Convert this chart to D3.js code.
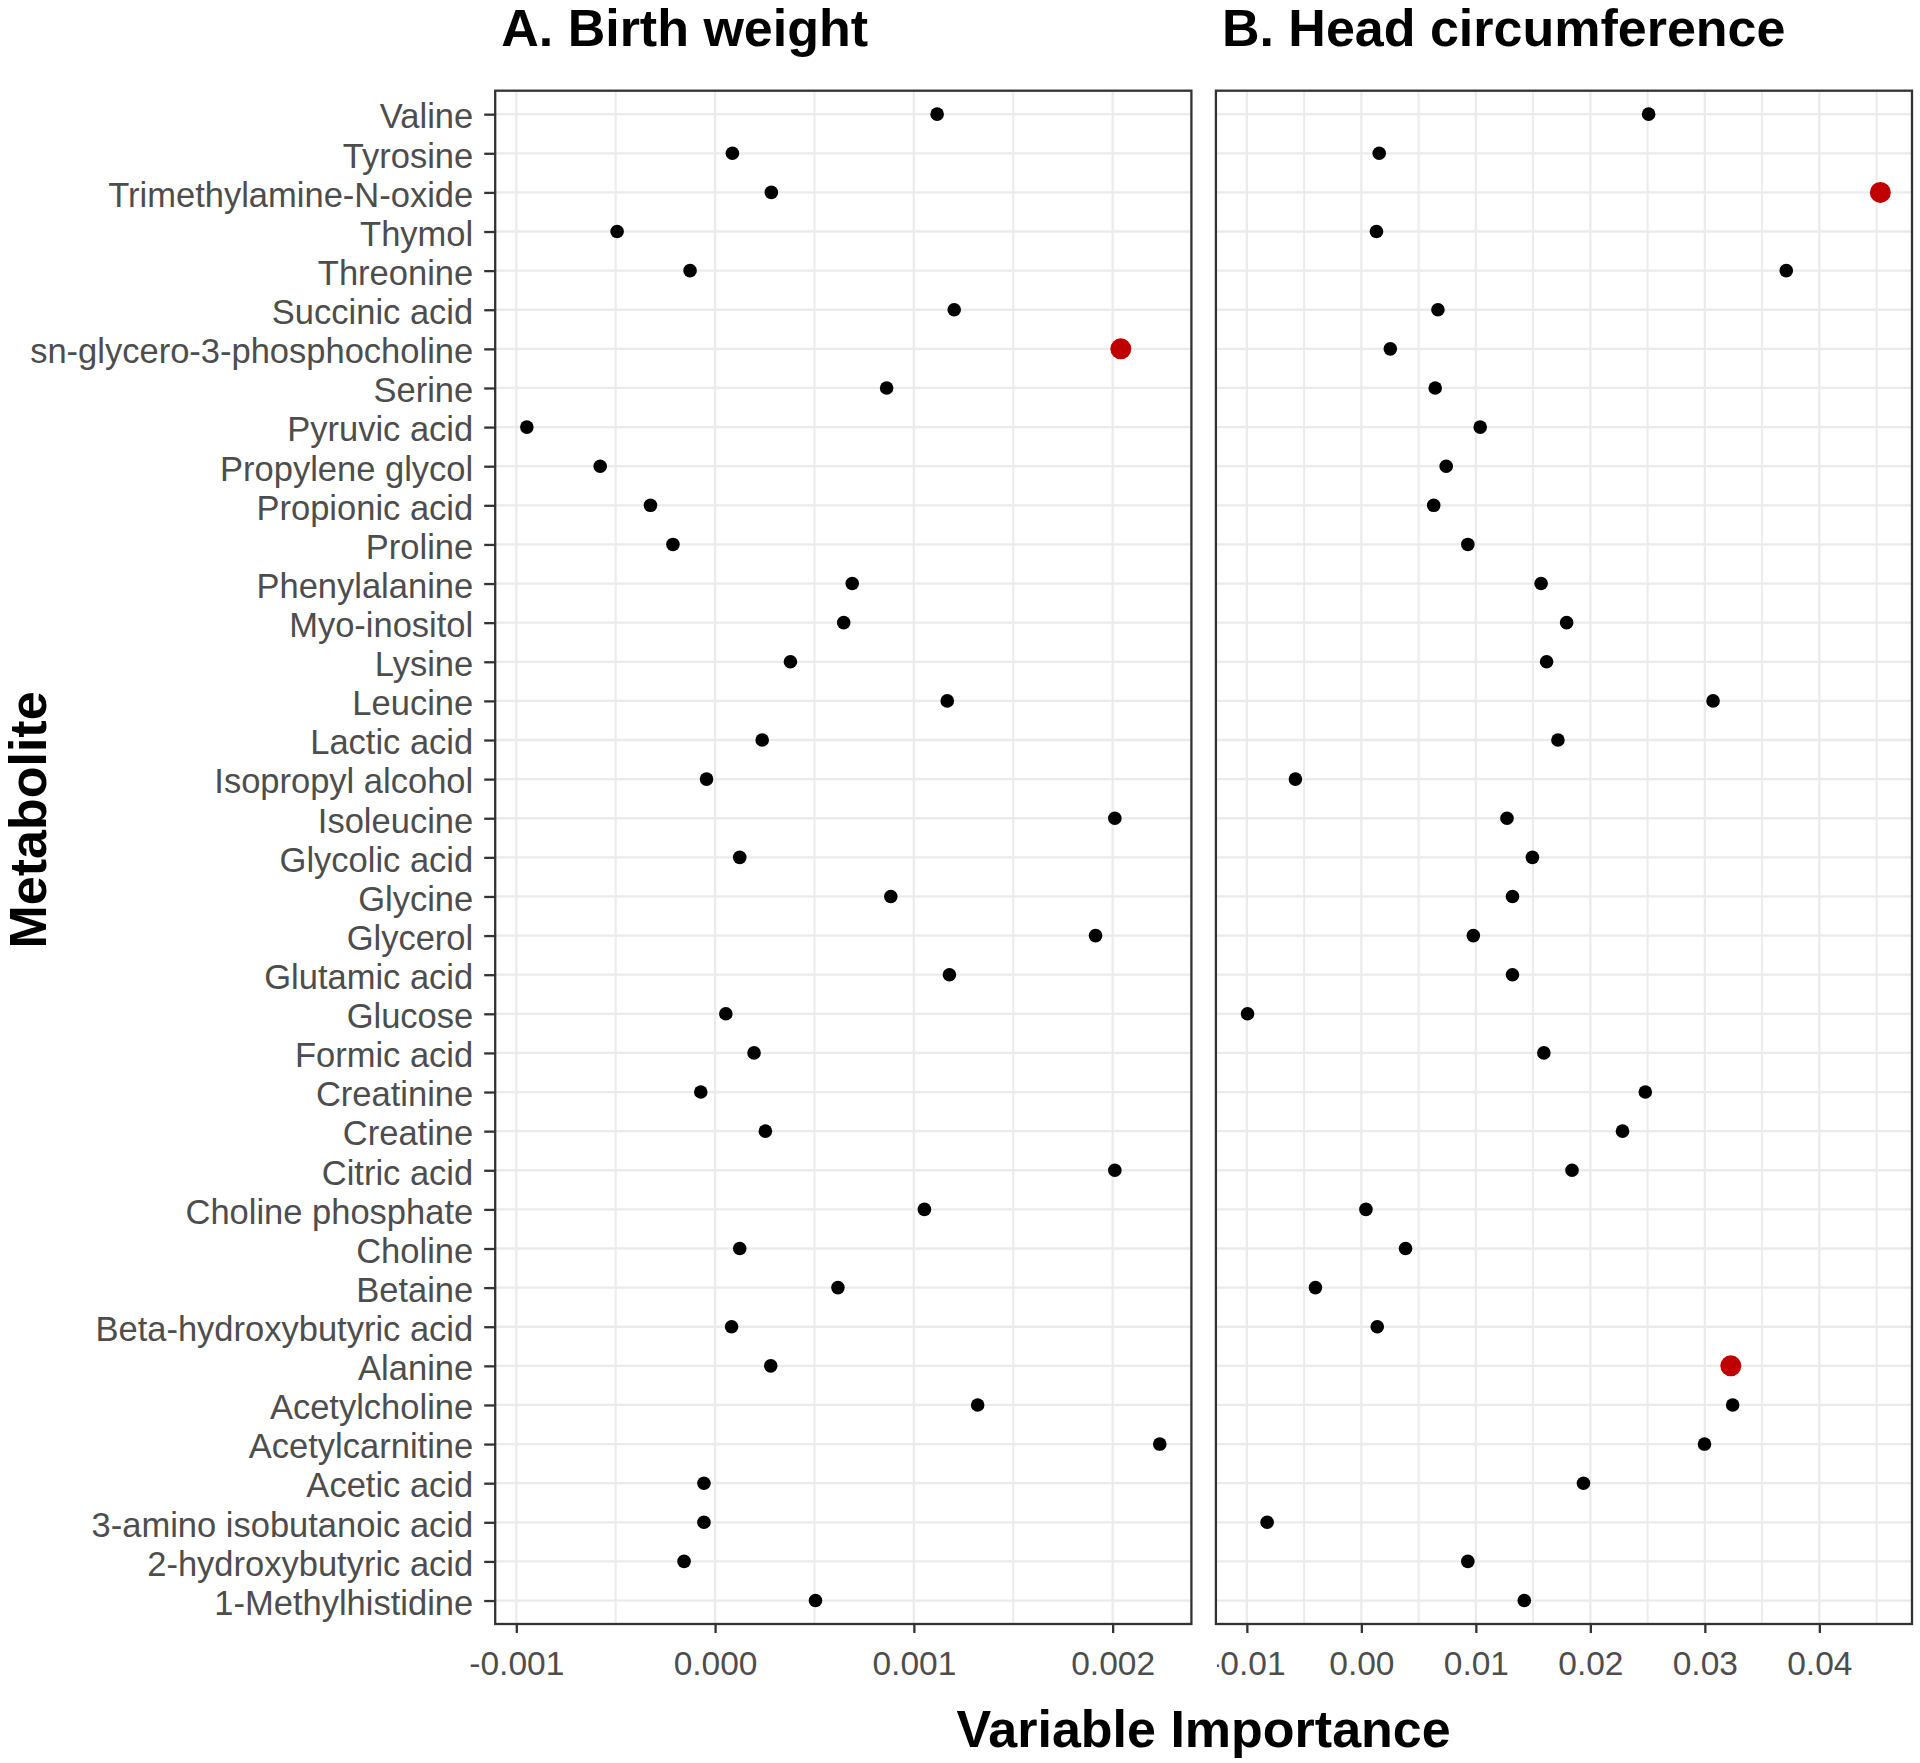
<!DOCTYPE html>
<html>
<head>
<meta charset="utf-8">
<script src="https://cdn.jsdelivr.net/npm/d3@7"></script>
<style>
  body { margin: 0; background: #fff; }
  svg text { font-family: "Liberation Sans", Arial, sans-serif; }
</style>
</head>
<body>
<div id="chart"></div>
<script>
    var metabolites = [
      "Valine", "Tyrosine", "Trimethylamine-N-oxide", "Thymol", "Threonine",
      "Succinic acid", "sn-glycero-3-phosphocholine", "Serine", "Pyruvic acid",
      "Propylene glycol", "Propionic acid", "Proline", "Phenylalanine",
      "Myo-inositol", "Lysine", "Leucine", "Lactic acid", "Isopropyl alcohol",
      "Isoleucine", "Glycolic acid", "Glycine", "Glycerol", "Glutamic acid",
      "Glucose", "Formic acid", "Creatinine", "Creatine", "Citric acid",
      "Choline phosphate", "Choline", "Betaine", "Beta-hydroxybutyric acid",
      "Alanine", "Acetylcholine", "Acetylcarnitine", "Acetic acid",
      "3-amino isobutanoic acid", "2-hydroxybutyric acid", "1-Methylhistidine"
    ];

    var birthWeight = [
      0.001117, 0.000087, 0.000283, -0.000493, -0.000126,
      0.001203, 0.002041, 0.000863, -0.000947,
      -0.000578, -0.000325, -0.000212, 0.000690,
      0.000647, 0.000379, 0.001168, 0.000237, -0.000043,
      0.002011, 0.000124, 0.000884, 0.001914, 0.001179,
      0.000054, 0.000196, -0.000072, 0.000253, 0.002011,
      0.001053, 0.000124, 0.000618, 0.000083,
      0.000280, 0.001321, 0.002237, -0.000056,
      -0.000056, -0.000156, 0.000505
    ];

    var headCircumference = [
      0.02509, 0.00156, 0.04533, 0.00132, 0.03711,
      0.00669, 0.00253, 0.00645, 0.01038,
      0.00741, 0.00632, 0.00930, 0.01570,
      0.01793, 0.01618, 0.03072, 0.01717, -0.00576,
      0.01272, 0.01494, 0.01320, 0.00978, 0.01320,
      -0.00994, 0.01594, 0.02480, 0.02281, 0.01840,
      0.00040, 0.00386, -0.00401, 0.00139,
      0.03227, 0.03243, 0.02997, 0.01940,
      -0.00823, 0.00930, 0.01423
    ];

    var highlightA = ["sn-glycero-3-phosphocholine"];
    var highlightB = ["Trimethylamine-N-oxide", "Alanine"];

    var ticksA = [-0.001, 0.000, 0.001, 0.002];
    var tickLabelsA = ["-0.001", "0.000", "0.001", "0.002"];
    var ticksB = [-0.01, 0.00, 0.01, 0.02, 0.03, 0.04];
    var tickLabelsB = ["-0.01", "0.00", "0.01", "0.02", "0.03", "0.04"];

    var svg = d3.select("#chart")
                .append("svg")
                .attr("width", 1920)
                .attr("height", 1763)
                .style("background-color", "white");

    var plotTop = 90.7, plotBottom = 1624;
    var gridColor = "#ebebeb";

    var yScale = d3.scalePoint()
                   .domain(metabolites)
                   .range([plotTop, plotBottom])
                   .padding(0.6);

    function drawPanel(opts) {
      var values = opts.values;
      var ext = d3.extent(values);
      var pad = (ext[1] - ext[0]) * 0.05;
      var x = d3.scaleLinear()
                .domain([ext[0] - pad, ext[1] + pad])
                .range([opts.left, opts.right]);

      var g = svg.append("g");

      // minor grid at midpoints between major ticks
      var step = opts.ticks[1] - opts.ticks[0];
      var minor = [];
      for (var k = -1; k < opts.ticks.length; k++) {
        var m = opts.ticks[0] + step * (k + 0.5);
        if (m > x.domain()[0] && m < x.domain()[1]) minor.push(m);
      }

      g.selectAll(".minor")
       .data(minor)
       .enter().append("line")
       .attr("x1", d => x(d)).attr("x2", d => x(d))
       .attr("y1", plotTop).attr("y2", plotBottom)
       .attr("stroke", gridColor)
       .attr("stroke-width", 2);

      g.selectAll(".vmajor")
       .data(opts.ticks)
       .enter().append("line")
       .attr("x1", d => x(d)).attr("x2", d => x(d))
       .attr("y1", plotTop).attr("y2", plotBottom)
       .attr("stroke", gridColor)
       .attr("stroke-width", 2.3);

      g.selectAll(".hmajor")
       .data(metabolites)
       .enter().append("line")
       .attr("x1", opts.left).attr("x2", opts.right)
       .attr("y1", d => yScale(d)).attr("y2", d => yScale(d))
       .attr("stroke", gridColor)
       .attr("stroke-width", 2.3);

      var pts = metabolites.map((name, i) => ({ name: name, value: values[i] }));

      g.selectAll("circle")
       .data(pts)
       .enter().append("circle")
       .attr("cx", d => x(d.value))
       .attr("cy", d => yScale(d.name))
       .attr("r", d => opts.highlight.indexOf(d.name) >= 0 ? 10.5 : 6.8)
       .attr("fill", d => opts.highlight.indexOf(d.name) >= 0 ? "#c00000" : "black");

      g.append("rect")
       .attr("x", opts.left).attr("y", plotTop)
       .attr("width", opts.right - opts.left)
       .attr("height", plotBottom - plotTop)
       .attr("fill", "none")
       .attr("stroke", "#333")
       .attr("stroke-width", 2.3);

      var xAxis = g.append("g")
       .attr("transform", `translate(0, ${plotBottom})`)
       .call(d3.axisBottom(x)
               .tickValues(opts.ticks)
               .tickSize(9)
               .tickPadding(18)
               .tickFormat((d, i) => opts.labels[i]));
      xAxis.select(".domain").remove();
      xAxis.selectAll("line").attr("stroke", "#333").attr("stroke-width", 2.3);
      xAxis.selectAll("text")
           .attr("fill", "#4d4d4d")
           .style("font-size", "33.5px");
      if (opts.clip) xAxis.attr("clip-path", "url(#" + opts.clip + ")");

      svg.append("text")
         .attr("x", opts.left + 6)
         .attr("y", 46)
         .style("font-size", "52px")
         .style("font-weight", "bold")
         .attr("fill", "black")
         .text(opts.title);

      return x;
    }

    svg.append("clipPath")
       .attr("id", "clipB")
       .append("rect")
       .attr("x", 1217).attr("y", 0)
       .attr("width", 703).attr("height", 1763);

    drawPanel({
      values: birthWeight, left: 495.2, right: 1191.4,
      ticks: ticksA, labels: tickLabelsA, highlight: highlightA,
      title: "A. Birth weight"
    });

    drawPanel({
      values: headCircumference, left: 1215.9, right: 1912,
      ticks: ticksB, labels: tickLabelsB, highlight: highlightB,
      title: "B. Head circumference", clip: "clipB"
    });

    var yAxis = svg.append("g")
       .attr("transform", "translate(495.2, 0)")
       .call(d3.axisLeft(yScale).tickSize(11).tickPadding(11));
    yAxis.select(".domain").remove();
    yAxis.selectAll("line").attr("stroke", "#333").attr("stroke-width", 2.3);
    yAxis.selectAll("text")
         .attr("dy", "0.4em")
         .attr("fill", "#4d4d4d")
         .style("font-size", "34.5px");

    svg.append("text")
       .attr("x", 1203.6)
       .attr("y", 1747)
       .style("text-anchor", "middle")
       .style("font-size", "52px")
       .style("font-weight", "bold")
       .text("Variable Importance");

    svg.append("text")
       .attr("transform", "translate(46, 820) rotate(-90)")
       .style("text-anchor", "middle")
       .style("font-size", "52px")
       .style("font-weight", "bold")
       .text("Metabolite");
</script>
</body>
</html>
